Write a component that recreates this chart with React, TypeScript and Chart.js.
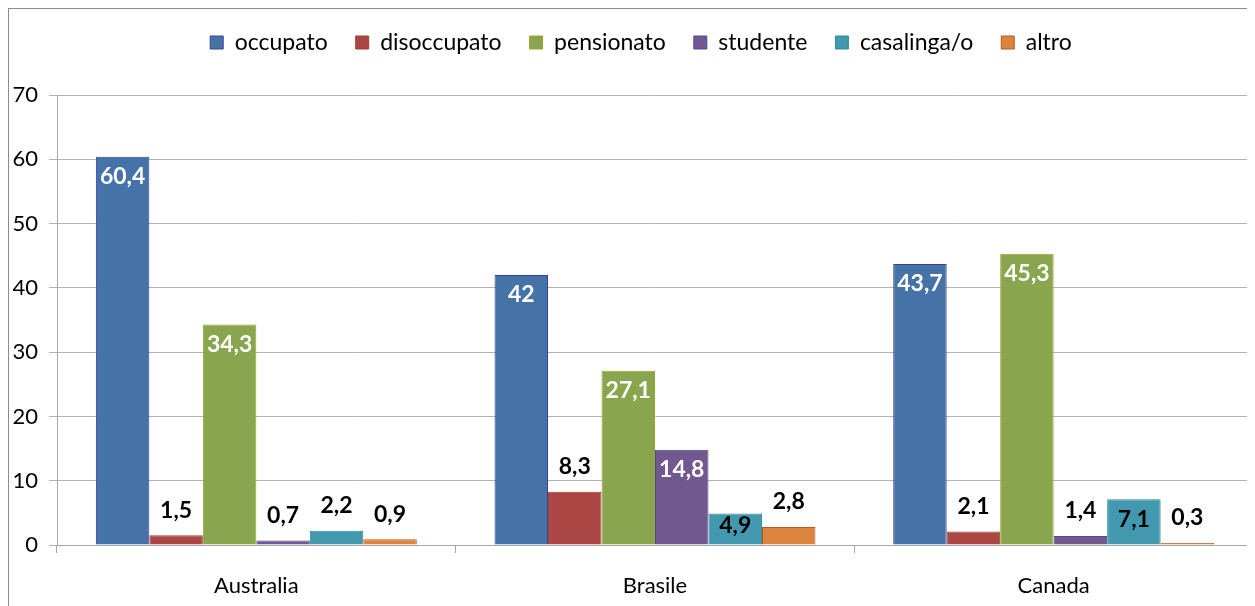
import React, { useEffect, useRef } from "react";
import { Chart, registerables } from "chart.js";

Chart.register(...registerables);

const categories = ["Australia", "Brasile", "Canada"];
const seriesNames = ["occupato", "disoccupato", "pensionato", "studente", "casalinga/o", "altro"];
const occupato = [60.4, 42, 43.7];
const disoccupato = [1.5, 8.3, 2.1];
const pensionato = [34.3, 27.1, 45.3];
const studente = [0.7, 14.8, 1.4];
const casalinga = [2.2, 4.9, 7.1];
const altro = [0.9, 2.8, 0.3];
const yTicks = [0, 10, 20, 30, 40, 50, 60, 70];

const seriesValues = [occupato, disoccupato, pensionato, studente, casalinga, altro];
const fillColors = ["#4572A7", "#AA4643", "#89A54E", "#71588F", "#4198AF", "#DB843D"];
const borderColors = ["#3A3F9A", "#A04030", "#9AA52A", "#4A4A9A", "#2E8E96", "#B85A20"];
const labelInside = [true, false, true, true, true, false];
const insideLabelColors = ["#FFFFFF", "#000000", "#FFFFFF", "#FFFFFF", "#000000", "#000000"];

const FONT = "Lato, 'Open Sans', sans-serif";

const valueLabels = {
  id: "valueLabels",
  afterDatasetsDraw(chart: any) {
    const ctx = chart.ctx;
    ctx.save();
    ctx.font = `bold 23px ${FONT}`;
    ctx.textAlign = "center";
    ctx.textBaseline = "middle";
    chart.data.datasets.forEach((ds: any, di: number) => {
      const meta = chart.getDatasetMeta(di);
      meta.data.forEach((el: any, i: number) => {
        const v = ds.data[i];
        const txt = String(v).replace(".", ",");
        const inside = labelInside[di] && v >= 4;
        let y: number;
        if (inside) {
          y = Math.min(el.y + 19, el.base - 20);
          ctx.fillStyle = insideLabelColors[di];
        } else {
          y = el.y - 26;
          ctx.fillStyle = "#000000";
        }
        ctx.fillText(txt, el.x, y + 1);
      });
    });
    ctx.restore();
  },
};

const legendSize = {
  id: "legendSize",
  beforeInit(chart: any) {
    const legend = chart.legend;
    const origFit = legend.fit;
    legend.fit = function () {
      origFit.bind(legend)();
      this.height = 86;
    };
    const origDraw = legend.draw;
    legend.draw = function () {
      const ctx = chart.ctx;
      ctx.save();
      ctx.translate(10, -6);
      origDraw.bind(legend)();
      ctx.restore();
    };
  },
};

export default function App() {
  const ref = useRef<HTMLCanvasElement>(null);
  useEffect(() => {
    if (!ref.current) return;
    const chart = new Chart(ref.current, {
      type: "bar",
      data: {
        labels: categories,
        datasets: seriesNames.map((name, i) => ({
          label: name,
          data: seriesValues[i],
          backgroundColor: fillColors[i],
          borderColor: borderColors[i],
          borderWidth: 1,
          borderSkipped: "bottom",
          categoryPercentage: 0.805,
          barPercentage: 1,
        })),
      },
      options: {
        animation: false,
        responsive: true,
        maintainAspectRatio: false,
        layout: { padding: { left: 0, right: 2, top: 0, bottom: 0 } },
        plugins: {
          tooltip: { enabled: false },
          legend: {
            position: "top",
            labels: {
              font: { family: FONT, size: 23 },
              color: "#000000",
              boxWidth: 13,
              boxHeight: 13,
              padding: 28,
            },
          },
        },
        scales: {
          x: {
            grid: {
              display: true,
              drawOnChartArea: false,
              drawTicks: true,
              tickLength: 8,
              color: "#a6a6a6",
              offset: true,
            },
            border: { color: "#a6a6a6" },
            ticks: {
              font: { family: FONT, size: 22 },
              color: "#000000",
              padding: 20,
            },
            afterFit(scale: any) {
              scale.height = 61;
            },
          },
          y: {
            min: 0,
            max: 70,
            afterBuildTicks(scale: any) {
              scale.ticks = yTicks.map((v) => ({ value: v }));
            },
            grid: {
              color: "#b3b3b3",
              tickLength: 8,
            },
            border: { color: "#a6a6a6" },
            ticks: {
              font: { family: FONT, size: 22 },
              color: "#000000",
              padding: 11,
            },
            afterFit(scale: any) {
              scale.width = 48;
            },
          },
        },
      },
      plugins: [valueLabels, legendSize],
    });
    return () => chart.destroy();
  }, []);

  return (
    <div
      style={{
        width: 1246,
        height: 597,
        borderTop: "1px solid #8c8c8c",
        borderLeft: "1px solid #8c8c8c",
        background: "#fff",
      }}
    >
      <canvas ref={ref} />
    </div>
  );
}
